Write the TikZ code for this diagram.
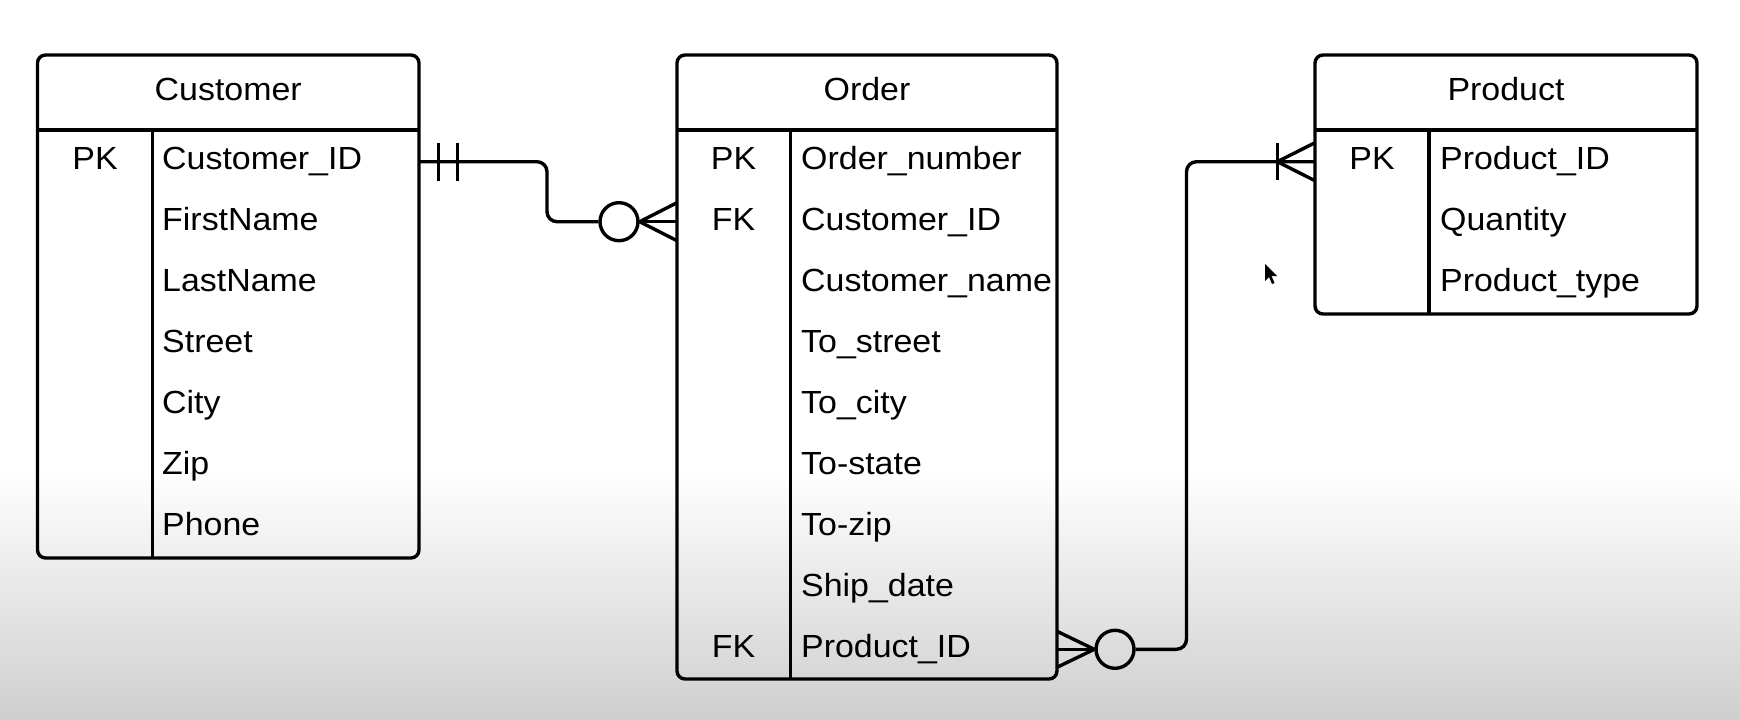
\documentclass[tikz,border=0pt]{standalone}
\usepackage{fontspec}
\setmainfont{Liberation Sans}[FakeStretch=1.06]
\begin{document}
\begin{tikzpicture}[x=1pt,y=-1pt,
  ent/.style={draw, line width=3.4pt, rounded corners=8pt, inner sep=0pt},
  rule/.style={line width=3.4pt},
  conn/.style={line width=3.4pt, rounded corners=10pt},
  foot/.style={line width=3.4pt},
  hdr/.style={anchor=base, inner sep=0pt, font=\fontsize{32}{38}\selectfont},
  key/.style={anchor=base, inner sep=0pt, font=\fontsize{32}{38}\selectfont},
  fld/.style={anchor=base west, inner sep=0pt, font=\fontsize{32}{38}\selectfont}]
\useasboundingbox (0,0) rectangle (1740,720);
% background
\fill[white] (0,0) rectangle (1740,470);
\shade[top color=white, bottom color=black!19] (0,469.5) rectangle (1740,720);

% ---------- Customer ----------
\node[ent, minimum width=381.5pt, minimum height=503pt] (cust) at (228.25,306.5) {};
\draw[rule] (37.5,130) -- (419,130);
\draw[rule] (152.5,130) -- (152.5,558);
\node[hdr] (custH) at (228.25,100.5) {Customer};
\node[key] (custK1) at (95,169.3) {PK};
\node[fld] (custF1) at (162,169.3) {Customer\_ID};
\node[fld] (custF2) at (162,230.3) {FirstName};
\node[fld] (custF3) at (162,291.3) {LastName};
\node[fld] (custF4) at (162,352.3) {Street};
\node[fld] (custF5) at (162,413.3) {City};
\node[fld] (custF6) at (162,474.3) {Zip};
\node[fld] (custF7) at (162,535.3) {Phone};

% ---------- Order ----------
\node[ent, minimum width=380pt, minimum height=624pt] (ord) at (867,367) {};
\draw[rule] (677,130) -- (1057,130);
\draw[rule] (790.5,130) -- (790.5,679);
\node[hdr] (ordH) at (867,100.5) {Order};
\node[key] (ordK1) at (733.5,169.3) {PK};
\node[key] (ordK2) at (733.5,230.3) {FK};
\node[key] (ordK9) at (733.5,657.3) {FK};
\node[fld] (ordF1) at (801,169.3) {Order\_number};
\node[fld] (ordF2) at (801,230.3) {Customer\_ID};
\node[fld] (ordF3) at (801,291.3) {Customer\_name};
\node[fld] (ordF4) at (801,352.3) {To\_street};
\node[fld] (ordF5) at (801,413.3) {To\_city};
\node[fld] (ordF6) at (801,474.3) {To-state};
\node[fld] (ordF7) at (801,535.3) {To-zip};
\node[fld] (ordF8) at (801,596.3) {Ship\_date};
\node[fld] (ordF9) at (801,657.3) {Product\_ID};

% ---------- Product ----------
\node[ent, minimum width=382pt, minimum height=259pt] (prod) at (1506,184.5) {};
\draw[rule] (1315,130) -- (1697,130);
\draw[rule] (1429,130) -- (1429,314);
\node[hdr] (prodH) at (1506,100.5) {Product};
\node[key] (prodK1) at (1372,169.3) {PK};
\node[fld] (prodF1) at (1440,169.3) {Product\_ID};
\node[fld] (prodF2) at (1440,230.3) {Quantity};
\node[fld] (prodF3) at (1440,291.3) {Product\_type};

% ---------- Customer -> Order ----------
\coordinate (c1) at (419,161.7);
\coordinate (o1) at (677,221.7);
\node[circle, draw, line width=3.4pt, minimum size=38pt, inner sep=0pt] (z1) at (619,221.7) {};
\draw[conn] (c1) -- (547,161.7) -- (547,221.7) -- (z1.west);
\draw[foot] (438.3,142.7) -- (438.3,180.7);
\draw[foot] (457.3,142.7) -- (457.3,180.7);
\draw[foot] (z1.east) -- (677,202.7);
\draw[foot] (z1.east) -- (o1);
\draw[foot] (z1.east) -- (677,240.7);

% ---------- Order -> Product ----------
\coordinate (o2) at (1057,649.3);
\coordinate (p1) at (1315,161.7);
\node[circle, draw, line width=3.4pt, minimum size=38pt, inner sep=0pt] (z2) at (1115,649.3) {};
\draw[foot] (1057,631.3) -- (z2.west);
\draw[foot] (o2) -- (z2.west);
\draw[foot] (1057,667.3) -- (z2.west);
\draw[conn] (z2.east) -- (1186.5,649.3) -- (1186.5,161.7) -- (p1);
\draw[foot] (1277.3,143) -- (1277.3,180.4);
\draw[foot] (1277.3,161.7) -- (1315,142.7);
\draw[foot] (1277.3,161.7) -- (1315,180.7);

% mouse cursor
\fill[black] (1265,264) -- (1265,281) -- (1269,277) -- (1272,284) -- (1274.5,283) -- (1271.5,276) -- (1277,276) -- cycle;
\end{tikzpicture}
\end{document}
